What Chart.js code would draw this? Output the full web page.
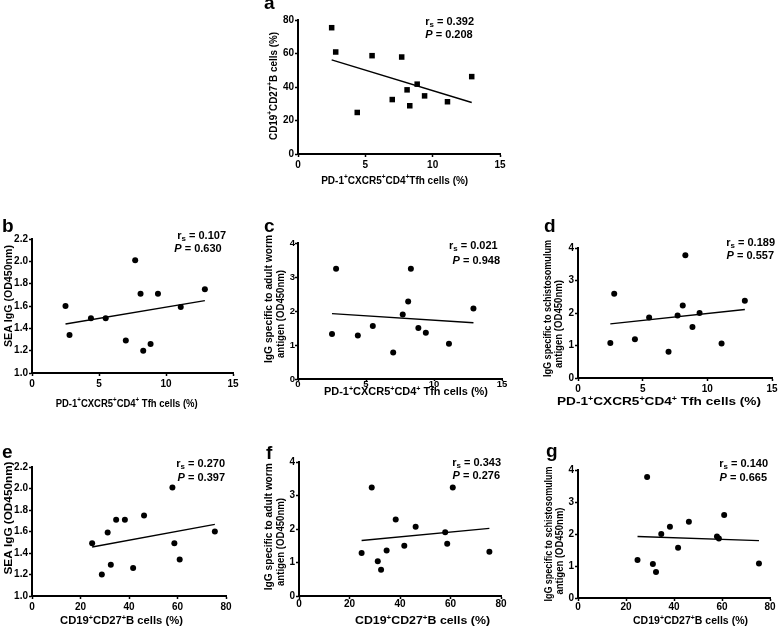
<!DOCTYPE html>
<html><head><meta charset="utf-8">
<script src="https://cdn.jsdelivr.net/npm/chart.js@4.4.1/dist/chart.umd.min.js"></script>
<style>
html,body{margin:0;padding:0;background:#fff;}
body{width:778px;height:628px;position:relative;overflow:hidden;}
canvas{position:absolute;}
</style></head><body>
<script>
// ---- data (12 subjects) ----
const tfhCells          = [2.5, 2.8, 4.4, 5.5, 7.0, 7.7, 8.1, 8.3, 8.85, 9.4, 11.1, 12.9];
const cd19Cells         = [75.4, 60.9, 24.8, 58.7, 32.5, 57.9, 38.3, 28.8, 41.7, 34.7, 31.2, 46.2];
const seaIgG            = [1.60, 1.34, 1.49, 1.49, 1.29, 2.01, 1.71, 1.20, 1.26, 1.71, 1.59, 1.75];
const adultWormIgG      = [1.32, 3.24, 1.28, 1.56, 0.78, 1.90, 2.28, 3.24, 1.50, 1.36, 1.04, 2.07];
const schistosomulumIgG = [1.08, 2.59, 1.19, 1.86, 0.81, 1.92, 2.23, 3.78, 1.57, 2.00, 1.06, 2.38];

// ---- tick labels ----
const tfhTicks  = [0, 5, 10, 15];
const cd19Ticks = [0, 20, 40, 60, 80];
const seaTicks  = [1.0, 1.2, 1.4, 1.6, 1.8, 2.0, 2.2];
const odTicks   = [0, 1, 2, 3, 4];

// ---- statistics text ----
const panelLetters = ['a', 'b', 'c', 'd', 'e', 'f', 'g'];
const rsValues = ['0.392', '0.107', '0.021', '0.189', '0.270', '0.343', '0.140'];
const pValues  = ['0.208', '0.630', '0.948', '0.557', '0.397', '0.276', '0.665'];

const FONT = "'Liberation Sans', Arial, Helvetica, sans-serif";
const tfhTitleA = 'PD-1^+CXCR5^+CD4^+Tfh cells (%)';
const tfhTitle  = 'PD-1^+CXCR5^+CD4^+ Tfh cells (%)';
const cd19Title = 'CD19^+CD27^+B cells (%)';
const seaTitle  = 'SEA IgG (OD450nm)';
const awTitle1  = 'IgG specific to adult worm';
const soTitle1  = 'IgG specific to schistosomulum';
const agTitle2  = 'antigen (OD450nm)';

const panels = [
  {x: tfhCells, y: cd19Cells, xt: tfhTicks, yt: cd19Ticks, ydec: 0, square: true,
   box: [250, 0, 520, 200], plot: [298, 20, 500, 154], xpad: 3, ypad: 1, tf: 10,
   xTitle: {text: tfhTitleA, cx: 394.7, cy: 180, len: 147},
   yTitle: [{text: cd19Title, cx: 273, cy: 86, len: 108}],
   ann: [474, 20.7, 472.7, 34.3], lp: [264, 8.5]},
  {x: tfhCells, y: seaIgG, xt: tfhTicks, yt: seaTicks, ydec: 1,
   box: [0, 205, 255, 415], plot: [32, 239, 233, 373], xpad: 3, ypad: 1, tf: 10,
   xTitle: {text: tfhTitle, cx: 126.7, cy: 403, len: 142},
   yTitle: [{text: seaTitle, cx: 8, cy: 296, len: 102}],
   ann: [226, 235, 221.7, 248], lp: [2, 232]},
  {x: tfhCells, y: adultWormIgG, xt: tfhTicks, yt: odTicks, ydec: 0, xtl: 2,
   box: [255, 205, 515, 415], plot: [298, 243, 502, 379], xpad: -1, ypad: 0, tf: 9.5,
   xTitle: {text: tfhTitle, cx: 406, cy: 391.5, len: 164},
   yTitle: [{text: awTitle1, cx: 268, cy: 299, len: 128}, {text: agTitle2, cx: 280, cy: 314, len: 88}],
   ann: [497.7, 245, 500, 260], lp: [264, 232]},
  {x: tfhCells, y: schistosomulumIgG, xt: tfhTicks, yt: odTicks, ydec: 0,
   box: [515, 205, 778, 415], plot: [578, 248, 772, 378], xpad: 3, ypad: 1, tf: 10,
   xTitle: {text: tfhTitle, cx: 659, cy: 401.7, len: 204},
   yTitle: [{text: soTitle1, cx: 547, cy: 308.5, len: 137}, {text: agTitle2, cx: 558, cy: 324, len: 88}],
   ann: [775, 242, 774, 255], lp: [544, 232]},
  {x: cd19Cells, y: seaIgG, xt: cd19Ticks, yt: seaTicks, ydec: 1,
   box: [0, 415, 255, 628], plot: [32, 467, 226, 596], xpad: 3, ypad: 1, tf: 10,
   xTitle: {text: cd19Title, cx: 121.5, cy: 620.3, len: 123},
   yTitle: [{text: seaTitle, cx: 8, cy: 518, len: 113}],
   ann: [225, 463, 225, 477], lp: [2, 458]},
  {x: cd19Cells, y: adultWormIgG, xt: cd19Ticks, yt: odTicks, ydec: 0,
   box: [255, 415, 515, 628], plot: [299, 462, 501, 596], xpad: 0, ypad: 1, tf: 10,
   xTitle: {text: cd19Title, cx: 422.5, cy: 620.3, len: 135},
   yTitle: [{text: awTitle1, cx: 268, cy: 526.7, len: 127}, {text: agTitle2, cx: 280, cy: 542, len: 88}],
   ann: [501, 462, 500, 475], lp: [266, 459]},
  {x: cd19Cells, y: schistosomulumIgG, xt: cd19Ticks, yt: odTicks, ydec: 0,
   box: [515, 415, 778, 628], plot: [578, 470, 770, 598], xpad: 1, ypad: 1, tf: 10,
   xTitle: {text: cd19Title, cx: 690.5, cy: 620.3, len: 115},
   yTitle: [{text: soTitle1, cx: 548, cy: 534, len: 135}, {text: agTitle2, cx: 559, cy: 551, len: 87}],
   ann: [768, 463, 767, 477], lp: [546, 457]}
];

const Y_SCALE_W = 28;   // width reserved for y tick labels
const X_SCALE_H = 18;   // height reserved for x tick labels

function linFit(xs, ys) {
  const n = xs.length;
  const mx = xs.reduce((a, b) => a + b, 0) / n;
  const my = ys.reduce((a, b) => a + b, 0) / n;
  let sxy = 0, sxx = 0;
  for (let i = 0; i < n; i++) { sxy += (xs[i] - mx) * (ys[i] - my); sxx += (xs[i] - mx) ** 2; }
  const b = sxy / sxx;
  return {a: my - b * mx, b};
}

function parseRich(str) {
  const segs = [];
  for (let i = 0; i < str.length; i++) {
    const c = str[i];
    if ((c === '^' || c === '_' || c === '~') && i + 1 < str.length) {
      segs.push({t: str[i + 1], k: c}); i++;
    } else if (segs.length && segs[segs.length - 1].k === 'n') {
      segs[segs.length - 1].t += c;
    } else segs.push({t: c, k: 'n'});
  }
  return segs;
}
function segFont(k, size) {
  if (k === '^') return `bold ${size * 0.65}px ${FONT}`;
  if (k === '_') return `bold ${size * 0.72}px ${FONT}`;
  if (k === '~') return `italic bold ${size}px ${FONT}`;
  return `bold ${size}px ${FONT}`;
}
function drawRich(ctx, str, x, y, size, len, rot, align) {
  const segs = parseRich(str);
  let w = 0;
  segs.forEach(s => { ctx.font = segFont(s.k, size); s.w = ctx.measureText(s.t).width; w += s.w; });
  const sx = len ? len / w : 1;
  ctx.save();
  ctx.translate(x, y);
  if (rot) ctx.rotate(rot);
  ctx.scale(sx, 1);
  let cx = align === 'center' ? -w / 2 : (align === 'right' ? -w : 0);
  const base = size * 0.36;
  ctx.textAlign = 'left';
  ctx.textBaseline = 'alphabetic';
  segs.forEach(s => {
    ctx.font = segFont(s.k, size);
    let dy = base;
    if (s.k === '^') dy = base - size * 0.42;
    if (s.k === '_') dy = base + size * 0.22;
    ctx.fillText(s.t, cx, dy);
    cx += s.w;
  });
  ctx.restore();
}

function makeTextPlugin(p, i) {
  return {
    id: 'panelText' + i,
    afterDraw(chart) {
      const ctx = chart.ctx;
      const bl = p.box[0], bt = p.box[1];
      ctx.save();
      ctx.fillStyle = '#000';
      ctx.font = `bold 19px ${FONT}`;
      ctx.textAlign = 'left';
      ctx.textBaseline = 'alphabetic';
      ctx.fillText(panelLetters[i], p.lp[0] - bl, p.lp[1] - bt);
      drawRich(ctx, p.xTitle.text, p.xTitle.cx - bl, p.xTitle.cy - bt, 10.5, p.xTitle.len, 0, 'center');
      p.yTitle.forEach(t => drawRich(ctx, t.text, t.cx - bl, t.cy - bt, 10, t.len, -Math.PI / 2, 'center'));
      drawRich(ctx, 'r_s = ' + rsValues[i], p.ann[0] - bl, p.ann[1] - bt, 11, null, 0, 'right');
      drawRich(ctx, '~P = ' + pValues[i], p.ann[2] - bl, p.ann[3] - bt, 11, null, 0, 'right');
      ctx.restore();
    }
  };
}

panels.forEach((p, i) => {
  const [bl, bt, br, bb] = p.box;
  const [L, T, R, B] = p.plot;
  const cv = document.createElement('canvas');
  cv.width = br - bl; cv.height = bb - bt;
  cv.style.left = bl + 'px'; cv.style.top = bt + 'px';
  cv.style.width = (br - bl) + 'px'; cv.style.height = (bb - bt) + 'px';
  document.body.appendChild(cv);

  const pts = p.x.map((v, k) => ({x: v, y: p.y[k]}));
  const fit = linFit(p.x, p.y);
  const xmin = Math.min(...p.x), xmax = Math.max(...p.x);
  const tickFont = {family: FONT, size: p.tf, weight: 'bold', lineHeight: 1};
  const xtl = p.xtl || 3;

  new Chart(cv, {
    type: 'scatter',
    data: {
      datasets: [
        {type: 'scatter', data: pts, pointStyle: p.square ? 'rect' : 'circle',
         pointRadius: p.square ? 3.9 : 3, pointHoverRadius: p.square ? 3.9 : 3,
         backgroundColor: '#000', borderColor: '#000', borderWidth: 0},
        {type: 'line', data: [{x: xmin, y: fit.a + fit.b * xmin}, {x: xmax, y: fit.a + fit.b * xmax}],
         borderColor: '#000', borderWidth: 1.4, pointRadius: 0, fill: false, tension: 0}
      ]
    },
    options: {
      responsive: false, animation: false, devicePixelRatio: 1,
      layout: {padding: {left: L - bl - Y_SCALE_W, top: T - bt, right: br - R, bottom: bb - B - X_SCALE_H}},
      plugins: {legend: {display: false}, tooltip: {enabled: false}},
      scales: {
        x: {
          type: 'linear', position: 'bottom', min: p.xt[0], max: p.xt[p.xt.length - 1],
          afterBuildTicks: s => { s.ticks = p.xt.map(v => ({value: v})); },
          afterFit: s => { s.height = X_SCALE_H; s.paddingLeft = 0; s.paddingRight = 0; },
          grid: {display: true, drawOnChartArea: false, drawTicks: true, tickLength: xtl, tickWidth: 1.5, tickColor: '#000'},
          border: {display: true, color: '#000', width: 2},
          ticks: {color: '#000', font: tickFont, padding: p.xpad, autoSkip: false, maxRotation: 0,
                  callback: v => String(v)},
          title: {display: false}
        },
        y: {
          type: 'linear', position: 'left', min: p.yt[0], max: p.yt[p.yt.length - 1],
          afterBuildTicks: s => { s.ticks = p.yt.map(v => ({value: v})); },
          afterFit: s => { s.width = Y_SCALE_W; s.paddingTop = 0; s.paddingBottom = 0; },
          grid: {display: true, drawOnChartArea: false, drawTicks: true, tickLength: 3, tickWidth: 1.5, tickColor: '#000'},
          border: {display: true, color: '#000', width: 2},
          ticks: {color: '#000', font: tickFont, padding: p.ypad, autoSkip: false,
                  callback: v => Number(v).toFixed(p.ydec)},
          title: {display: false}
        }
      }
    },
    plugins: [makeTextPlugin(p, i)]
  });
});
</script>
</body></html>
